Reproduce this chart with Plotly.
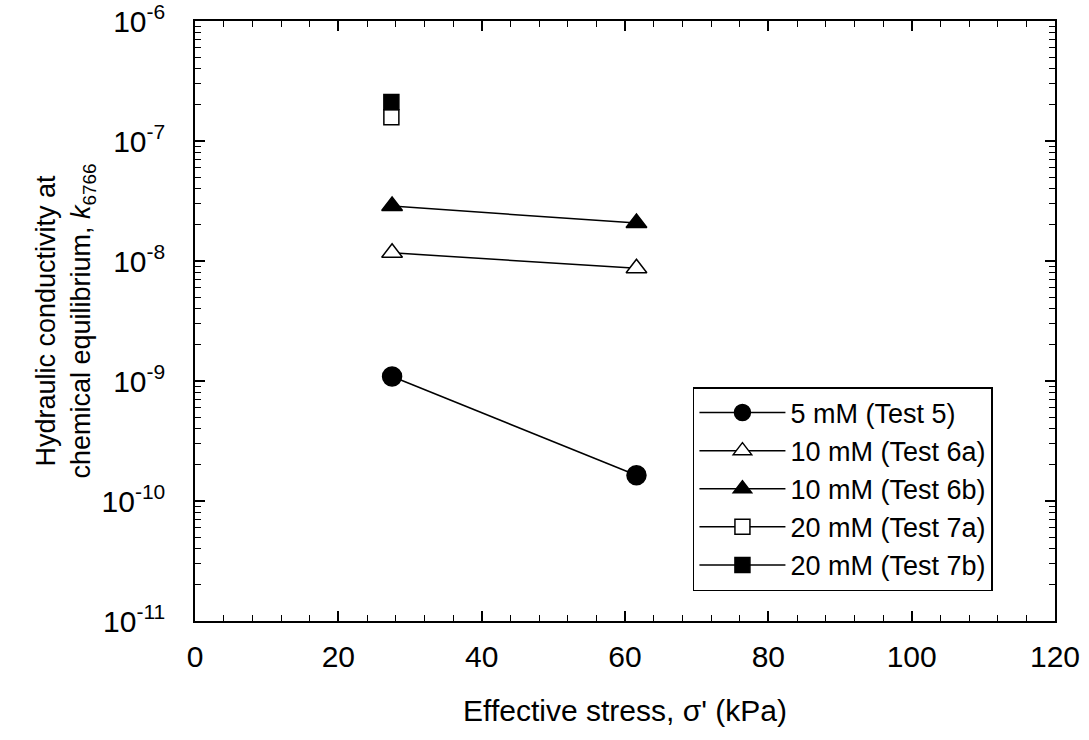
import plotly.graph_objects as go

# Data
names = ["5 mM (Test 5)", "10 mM (Test 6a)", "10 mM (Test 6b)", "20 mM (Test 7a)", "20 mM (Test 7b)"]
stress_5 = [27.5, 61.6]
k_5 = [1.09e-9, 1.64e-10]
stress_6a = [27.5, 61.6]
k_6a = [1.17e-8, 8.7e-9]
stress_6b = [27.5, 61.6]
k_6b = [2.87e-8, 2.07e-8]
stress_7a = [27.4]
k_7a = [1.58e-7]
stress_7b = [27.4]
k_7b = [2.11e-7]

y_tickvals = [1e-11, 1e-10, 1e-9, 1e-8, 1e-7, 1e-6]
y_ticktext = ["10<sup>-11</sup>", "10<sup>-10</sup>", "10<sup>-9</sup>", "10<sup>-8</sup>", "10<sup>-7</sup>", "10<sup>-6</sup>"]
x_tickvals = [0, 20, 40, 60, 80, 100, 120]

series = [
    (stress_5, k_5, "circle", "black", 19),
    (stress_6a, k_6a, "triangle-up", "white", 18),
    (stress_6b, k_6b, "triangle-up", "black", 18),
    (stress_7a, k_7a, "square", "white", 15),
    (stress_7b, k_7b, "square", "black", 15),
]

fig = go.Figure()
for name, (x, y, sym, fill, size) in zip(names, series):
    fig.add_trace(go.Scatter(
        x=x, y=y, name=name, mode="lines+markers",
        line=dict(color="black", width=1.5),
        marker=dict(symbol=sym, size=size, color=fill, line=dict(color="black", width=1.5)),
    ))

minor_y = []
for e in range(-11, -6):
    for m in range(2, 10):
        minor_y.append(m * 10 ** e)

fig.update_layout(
    width=1089, height=740,
    margin=dict(l=195, r=34, t=21, b=119, autoexpand=False),
    paper_bgcolor="white", plot_bgcolor="white",
    font=dict(family="Arial, Liberation Sans, sans-serif", color="black"),
    showlegend=True,
    legend=dict(
        x=0.579, y=0.39, xanchor="left", yanchor="top",
        bgcolor="white", bordercolor="black", borderwidth=1.5,
        font=dict(size=27, color="black"),
        itemwidth=86, tracegroupgap=0,
        entrywidth=320, entrywidthmode="pixels",
    ),
    xaxis=dict(
        range=[0, 120], tickvals=x_tickvals, ticks="inside", ticklen=10, tickwidth=1.5,
        tickcolor="black", showline=True, linecolor="black", linewidth=1.5, mirror="ticks",
        showgrid=False, zeroline=False, tickfont=dict(size=30), automargin=False,
        ticklabelstandoff=8, ticklabeloverflow="allow",
        minor=dict(ticks="inside", ticklen=6, tickwidth=1, tickcolor="black", dtick=4, showgrid=False),
        title=dict(text="Effective stress, σ' (kPa)", font=dict(size=30), standoff=28),
    ),
    yaxis=dict(
        type="log", range=[-11, -6], tickvals=y_tickvals, ticktext=y_ticktext,
        ticks="inside", ticklen=10, tickwidth=1.5, tickcolor="black",
        showline=True, linecolor="black", linewidth=1.5, mirror="ticks",
        showgrid=False, zeroline=False, tickfont=dict(size=30), automargin=False,
        ticklabelstandoff=22, ticklabeloverflow="allow",
        minor=dict(ticks="inside", ticklen=6, tickwidth=1, tickcolor="black",
                   tickmode="array", tickvals=minor_y, showgrid=False),
        title=dict(text="Hydraulic conductivity at<br>chemical equilibrium, <i>k</i><sub>6766</sub>",
                   font=dict(size=27), standoff=3),
    ),
)

fig.write_html("out.html", config={"displayModeBar": False},
               post_script="document.body.style.margin='0';")
